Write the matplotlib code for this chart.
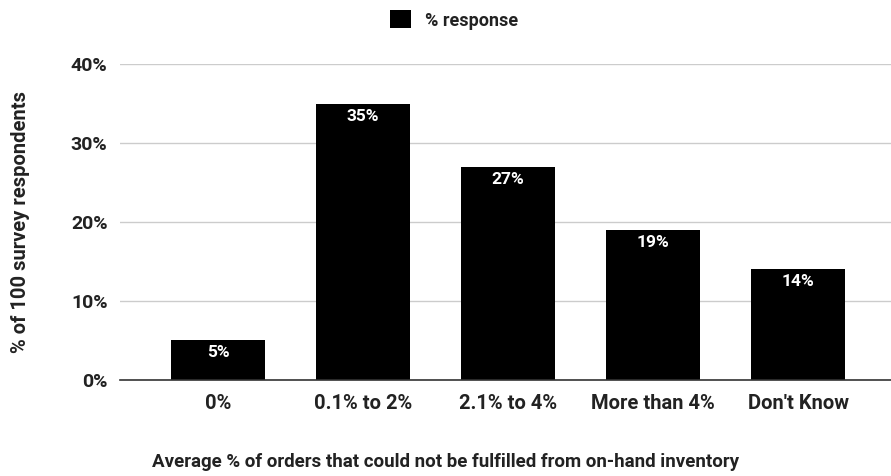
import matplotlib
matplotlib.use("Agg")
import matplotlib.pyplot as plt
from matplotlib.patches import Patch

plt.rcParams["font.family"] = ["Roboto", "DejaVu Sans"]

categories = ["0%", "0.1% to 2%", "2.1% to 4%", "More than 4%", "Don't Know"]
response = [0.05, 0.35, 0.27, 0.19, 0.14]
labels = ["5%", "35%", "27%", "19%", "14%"]
yticks = [0.0, 0.1, 0.2, 0.3, 0.4]
yticklabels = ["0%", "10%", "20%", "30%", "40%"]

fig = plt.figure(figsize=(8.91, 4.76), dpi=100)
ax = fig.add_axes([0.1347, 0.2017, 0.8653, 0.6638])

x = range(len(categories))
bars = ax.bar(x, response, width=0.65, color="black", zorder=3)
for b, lab in zip(bars, labels):
    ax.annotate(lab, (b.get_x() + b.get_width() / 2, b.get_height()),
                xytext=(0, -9), textcoords="offset points", ha="center", va="center",
                color="white", fontsize=12.5, fontweight="bold", zorder=4)

ax.set_xlim(-0.676, 4.64)
ax.set_ylim(0, 0.4)
ax.set_yticks(yticks)
ax.set_yticklabels(yticklabels, fontsize=14, fontweight="bold", color="#222222")
ax.set_xticks(list(x))
ax.set_xticklabels(categories, fontsize=14.5, fontweight="bold", color="#222222")
ax.tick_params(axis="y", length=0, pad=9)
ax.tick_params(axis="x", length=0, pad=10)
ax.grid(axis="y", color="#cccccc", lw=1, zorder=0)
for s in ["top", "right", "left"]:
    ax.spines[s].set_visible(False)
ax.spines["bottom"].set_color("#333333")
ax.spines["bottom"].set_linewidth(1.2)
ax.spines["bottom"].set_zorder(5)

ax.set_ylabel("% of 100 survey respondents", fontsize=14.5, fontweight="bold",
              color="#222222")
ax.yaxis.set_label_coords(-0.1166, 0.5)
fig.text(0.5, 1 - 462 / 476, "Average % of orders that could not be fulfilled from on-hand inventory",
         ha="center", va="center", fontsize=13.5, fontweight="bold", color="#222222")

leg = fig.legend(handles=[Patch(facecolor="black", label="% response")], loc="center",
                 bbox_to_anchor=(0.51, 1 - 20 / 476), frameon=False, handlelength=1.15,
                 handleheight=1.15, handletextpad=0.8, prop={"weight": "bold", "size": 13})
for t in leg.get_texts():
    t.set_color("#222222")

fig.savefig("out.png", dpi=100)
